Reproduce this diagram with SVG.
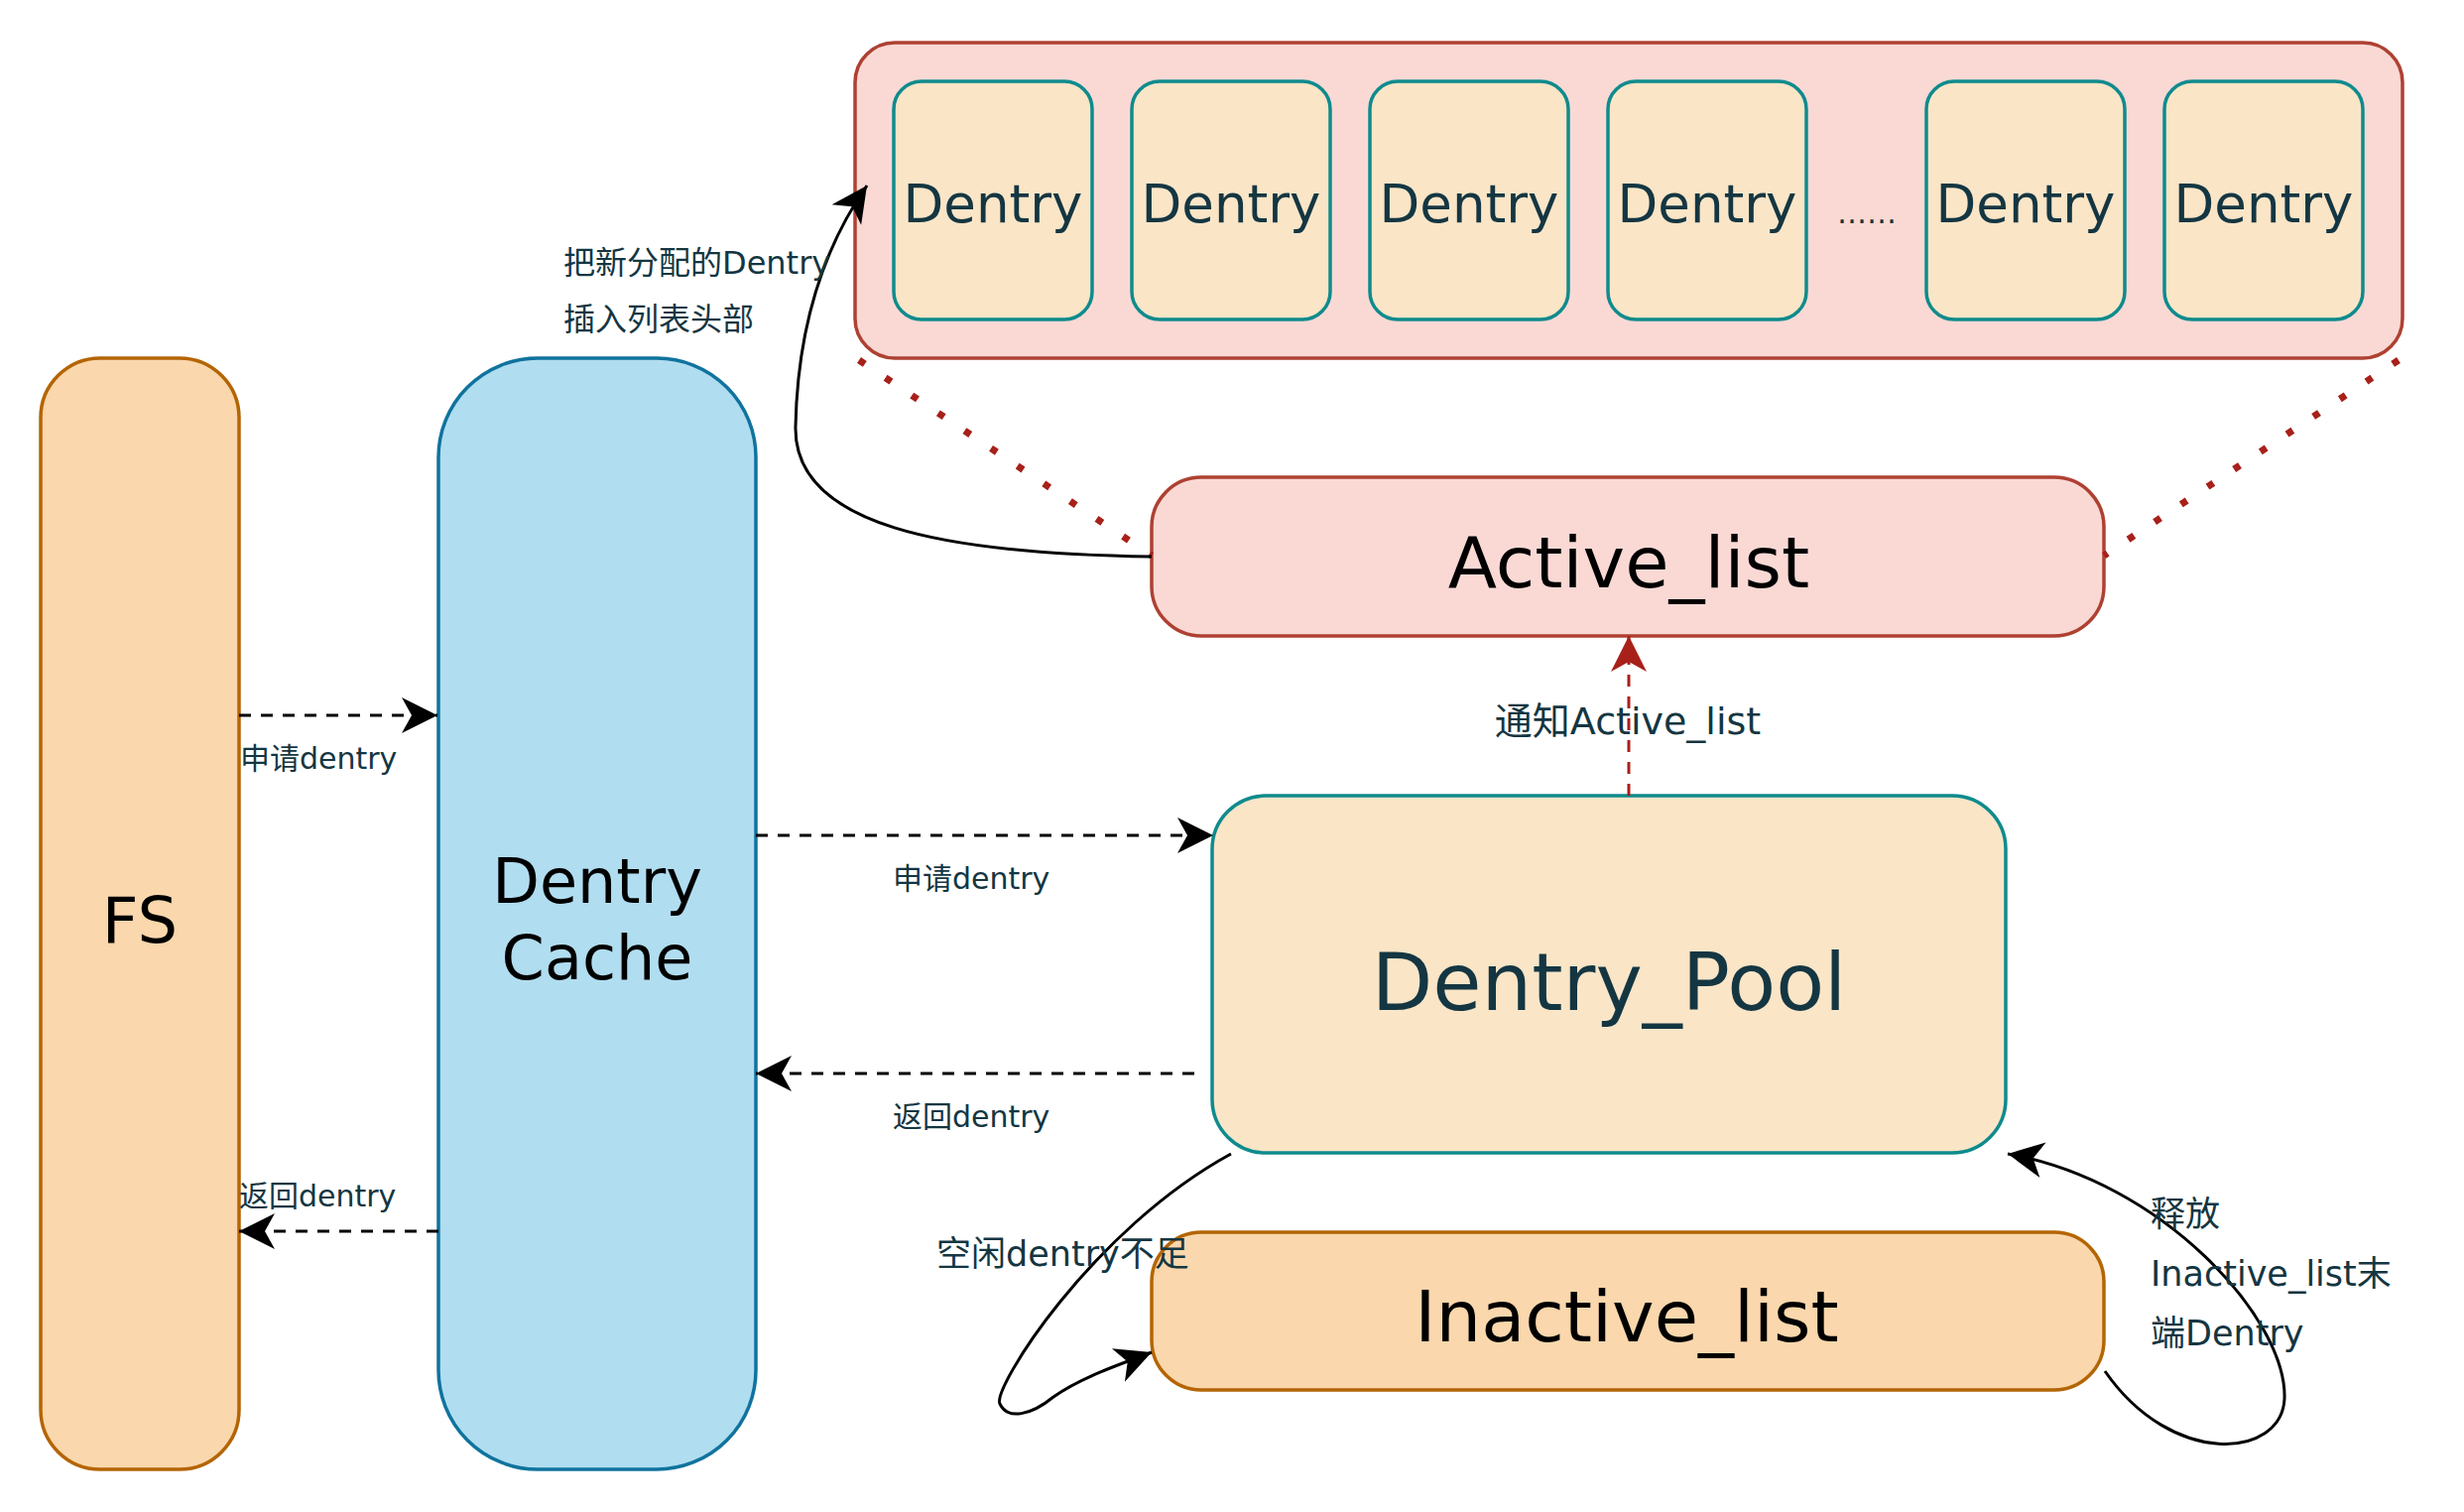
<svg xmlns="http://www.w3.org/2000/svg" width="2484" height="1524" viewBox="0 0 2484 1524">
<style>
.t{font-family:"DejaVu Sans","Noto Sans CJK SC",sans-serif;}
.lbl{font-family:"DejaVu Sans","Noto Sans CJK SC",sans-serif;fill:#143642;}
.dentry{fill:#fae5c7;stroke:#0f8b8d;stroke-width:3.5;}
.dtext{font-family:"DejaVu Sans",sans-serif;font-size:53px;fill:#143642;text-anchor:middle;}
.dash{fill:none;stroke:#000;stroke-width:3;stroke-dasharray:12 10;}
.curve{fill:none;stroke:#000;stroke-width:3;}
.dot{fill:none;stroke:#a8201a;stroke-width:7;stroke-dasharray:7 25;}
</style>
<defs>
<marker id="ab" markerUnits="userSpaceOnUse" markerWidth="40" markerHeight="40" refX="36" refY="18" orient="auto" overflow="visible">
<path d="M0 0 L36 18 L0 36 L10 18 Z" fill="#000"/>
</marker>
<marker id="ar" markerUnits="userSpaceOnUse" markerWidth="40" markerHeight="40" refX="36" refY="18" orient="auto" overflow="visible">
<path d="M0 0 L36 18 L0 36 L10 18 Z" fill="#a8201a"/>
</marker>
</defs>
<rect width="2484" height="1524" fill="#fff"/>

<g id="container">
<rect x="862" y="43" width="1560" height="318" rx="40" fill="#fad9d5" stroke="#ae4132" stroke-width="3.5"/>
</g>
<g id="dentry1"><rect class="dentry" x="901" y="82" width="200" height="240" rx="28"/><text class="dtext" x="1001" y="224">Dentry</text></g>
<g id="dentry2"><rect class="dentry" x="1141" y="82" width="200" height="240" rx="28"/><text class="dtext" x="1241" y="224">Dentry</text></g>
<g id="dentry3"><rect class="dentry" x="1381" y="82" width="200" height="240" rx="28"/><text class="dtext" x="1481" y="224">Dentry</text></g>
<g id="dentry4"><rect class="dentry" x="1621" y="82" width="200" height="240" rx="28"/><text class="dtext" x="1721" y="224">Dentry</text></g>
<g id="ellipsis"><text x="1882" y="225" font-family="DejaVu Sans,sans-serif" font-size="30" fill="#143642" text-anchor="middle">……</text></g>
<g id="dentry5"><rect class="dentry" x="1942" y="82" width="200" height="240" rx="28"/><text class="dtext" x="2042" y="224">Dentry</text></g>
<g id="dentry6"><rect class="dentry" x="2182" y="82" width="200" height="240" rx="28"/><text class="dtext" x="2282" y="224">Dentry</text></g>

<g id="fs">
<rect x="41" y="361" width="200" height="1120" rx="60" fill="#fad7ac" stroke="#b46504" stroke-width="3.5"/>
<text class="t" x="141" y="950" font-size="64" text-anchor="middle" fill="#000">FS</text>
</g>
<g id="dentry-cache">
<rect x="442" y="361" width="320" height="1120" rx="100" fill="#b1ddf0" stroke="#10739e" stroke-width="3.5"/>
<text class="t" x="602" y="910" font-size="62" text-anchor="middle" fill="#000">Dentry</text>
<text class="t" x="602" y="987" font-size="62" text-anchor="middle" fill="#000">Cache</text>
</g>
<g id="active-list">
<rect x="1161" y="481" width="960" height="160" rx="50" fill="#fad9d5" stroke="#ae4132" stroke-width="3.5"/>
<text class="t" x="1642" y="592" font-size="72" text-anchor="middle" fill="#000">Active_list</text>
</g>
<g id="dentry-pool">
<rect x="1222" y="802" width="800" height="360" rx="54" fill="#fae5c7" stroke="#0f8b8d" stroke-width="3.5"/>
<text class="t" x="1622" y="1018" font-size="80" text-anchor="middle" fill="#143642">Dentry_Pool</text>
</g>
<g id="inactive-list">
<rect x="1161" y="1242" width="960" height="159" rx="50" fill="#fad7ac" stroke="#b46504" stroke-width="3.5"/>
<text class="t" x="1640" y="1352" font-size="72" text-anchor="middle" fill="#000">Inactive_list</text>
</g>

<g id="connectors">
<path class="dot" d="M866 363 L1161 560"/>
<path class="dot" d="M2418 363 L2121 560"/>
<path class="curve" d="M1161 561 C 950 558, 800 530, 802 430 C 804 330, 830 250, 874 187" marker-end="url(#ab)"/>
<path class="dash" d="M241 721 L441 721" marker-end="url(#ab)"/>
<path class="dash" d="M442 1241 L241 1241" marker-end="url(#ab)"/>
<path class="dash" d="M762 842 L1223 842" marker-end="url(#ab)"/>
<path class="dash" d="M1204 1082 L762 1082" marker-end="url(#ab)"/>
<path d="M1642 802 L1642 641" fill="none" stroke="#a8201a" stroke-width="3" stroke-dasharray="12 10" marker-end="url(#ar)"/>
<path class="curve" d="M1241 1163 C 1100 1240, 1000 1400, 1008 1415 C 1016 1432, 1040 1426, 1062 1408 C 1090 1388, 1130 1375, 1161 1363" marker-end="url(#ab)"/>
<path class="curve" d="M2122 1382 C 2190 1480, 2300 1470, 2303 1410 C 2306 1330, 2180 1190, 2024 1163" marker-end="url(#ab)"/>
</g>

<g id="labels">
<text class="lbl" x="568" y="276" font-size="32">把新分配的Dentry</text>
<text class="lbl" x="568" y="333" font-size="32">插入列表头部</text>
<text class="lbl" x="242" y="775" font-size="30">申请dentry</text>
<text class="lbl" x="241" y="1216" font-size="30">返回dentry</text>
<text class="lbl" x="900" y="896" font-size="30">申请dentry</text>
<text class="lbl" x="900" y="1136" font-size="30">返回dentry</text>
<text class="lbl" x="1641" y="740" font-size="38" text-anchor="middle">通知Active_list</text>
<text class="lbl" x="944" y="1276" font-size="35">空闲dentry不足</text>
<text class="lbl" x="2168" y="1236" font-size="35">释放</text>
<text class="lbl" x="2168" y="1296" font-size="35">Inactive_list末</text>
<text class="lbl" x="2168" y="1356" font-size="35">端Dentry</text>
</g>
</svg>
